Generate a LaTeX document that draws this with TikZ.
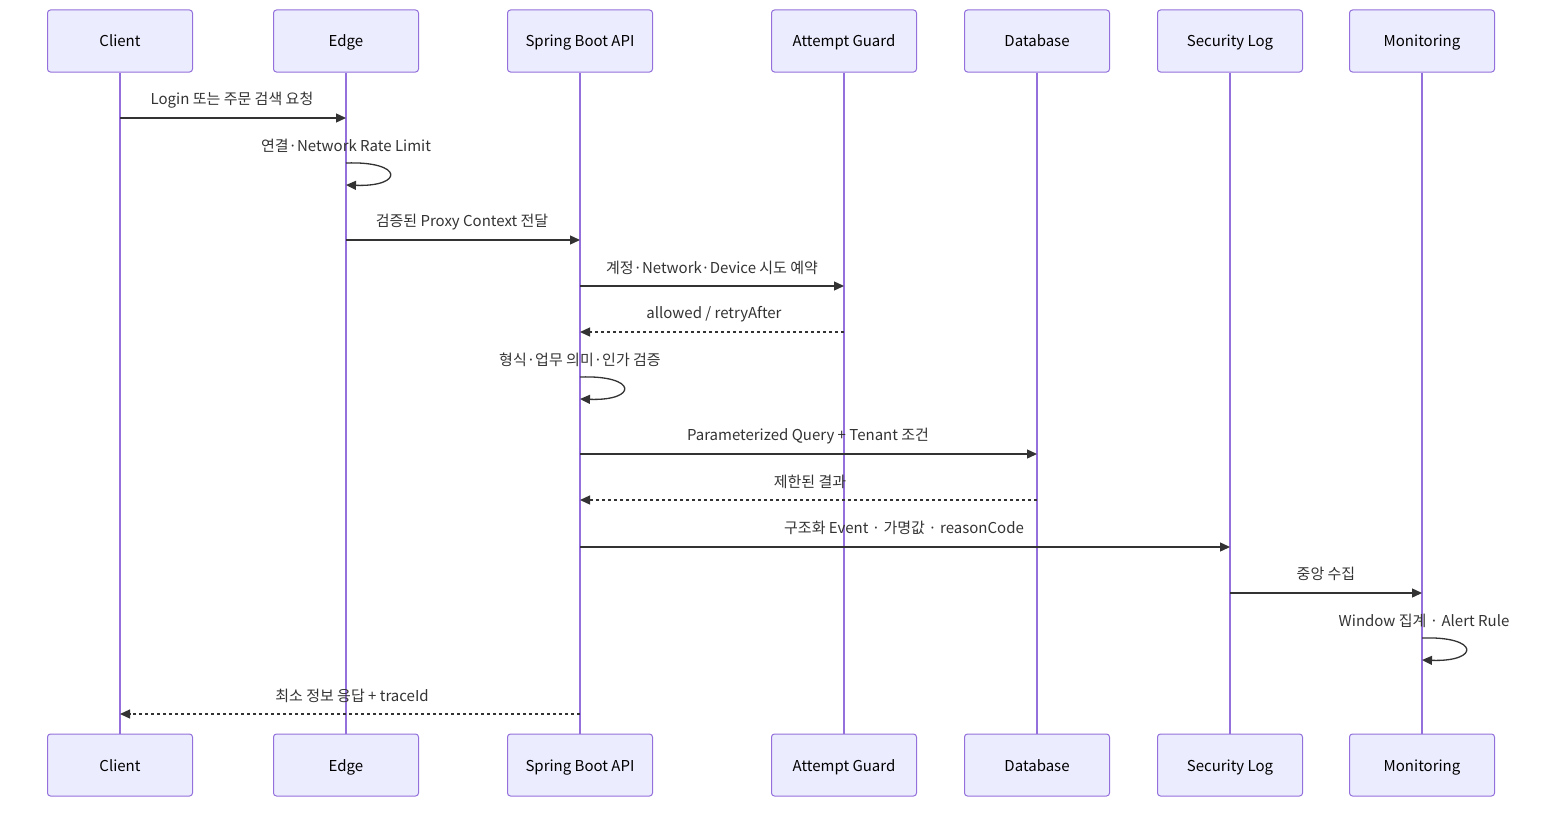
\documentclass[tikz,border=0pt]{standalone}
\usepackage{fontspec}
\setmainfont{Noto Sans CJK KR}
\usetikzlibrary{arrows.meta}
\definecolor{boxfill}{HTML}{ECECFF}
\definecolor{boxline}{HTML}{9370DB}
\definecolor{ink}{HTML}{333333}
\begin{document}
\begin{tikzpicture}[x=1pt,y=-1pt,
  actor/.style={draw=boxline,fill=boxfill,line width=1pt,rounded corners=3pt,minimum width=145pt,minimum height=62pt,inner sep=0pt,font=\fontsize{15}{17}\selectfont,text=black,text height=13pt,text depth=1pt},
  life/.style={draw=boxline,line width=2pt},
  msg/.style={draw=ink,line width=1.3pt,-{Triangle[length=10pt,width=9pt]}},
  reply/.style={msg,dash pattern=on 3pt off 3pt},
  lbl/.style={font=\fontsize{15}{17}\selectfont,text=ink,inner sep=0pt}]
\useasboundingbox (0,0) rectangle (1568,816);
\foreach \n/\x/\t in {c/120/Client,e/346/Edge,s/580/Spring Boot API,a/844/Attempt Guard,d/1037/Database,l/1230/Security Log,m/1422/Monitoring}{
  \node[actor] (\n t) at (\x,41) {\t};
  \node[actor] (\n b) at (\x,765) {\t};
  \draw[life] (\n t.south) -- (\n b.north);
}
% messages
\draw[msg] (ct.south |- 0,118) -- (et.south |- 0,118);
\node[lbl] at (232,100) {Login 또는 주문 검색 요청};
\node[lbl] at (346,146) {연결·Network Rate Limit};
\draw[msg] (et.south |- 0,163) .. controls ([xshift=58pt]et.south |- 0,161) and ([xshift=58pt]et.south |- 0,187) .. (et.south |- 0,185);
\draw[msg] (et.south |- 0,240) -- (st.south |- 0,240);
\node[lbl] at (462,222) {검증된 Proxy Context 전달};
\draw[msg] (st.south |- 0,286) -- (at.south |- 0,286);
\node[lbl] at (712,268) {계정·Network·Device 시도 예약};
\draw[reply] (at.south |- 0,332) -- (st.south |- 0,332);
\node[lbl] at (714,314) {allowed / retryAfter};
\node[lbl] at (580,360) {형식·업무 의미·인가 검증};
\draw[msg] (st.south |- 0,377) .. controls ([xshift=58pt]st.south |- 0,375) and ([xshift=58pt]st.south |- 0,401) .. (st.south |- 0,399);
\draw[msg] (st.south |- 0,454) -- (dt.south |- 0,454);
\node[lbl] at (808,436) {Parameterized Query + Tenant 조건};
\draw[reply] (dt.south |- 0,500) -- (st.south |- 0,500);
\node[lbl] at (810,482) {제한된 결과};
\draw[msg] (st.south |- 0,547) -- (lt.south |- 0,547);
\node[lbl] at (904,528) {구조화 Event · 가명값 · reasonCode};
\draw[msg] (lt.south |- 0,593) -- (mt.south |- 0,593);
\node[lbl] at (1326,574) {중앙 수집};
\node[lbl] at (1424,621) {Window 집계 · Alert Rule};
\draw[msg] (mt.south |- 0,638) .. controls ([xshift=58pt]mt.south |- 0,636) and ([xshift=58pt]mt.south |- 0,662) .. (mt.south |- 0,660);
\draw[reply] (st.south |- 0,714) -- (ct.south |- 0,714);
\node[lbl] at (352,696) {최소 정보 응답 + traceId};
\end{tikzpicture}
\end{document}
